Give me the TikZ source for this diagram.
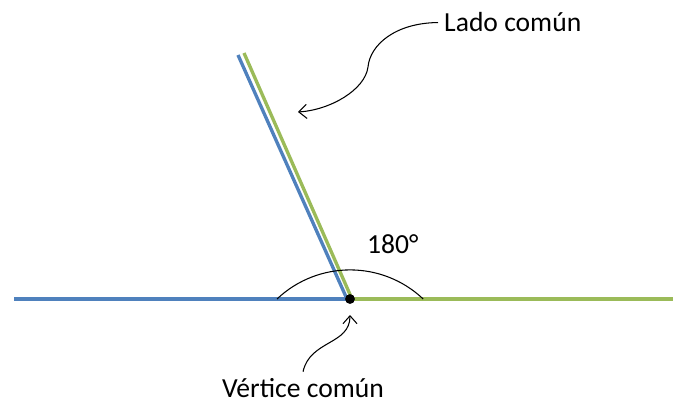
\documentclass[tikz,border=0pt]{standalone}
\usepackage{fontspec}
\setmainfont{Carlito}
\usetikzlibrary{arrows.meta}
\definecolor{azul}{HTML}{4F81BD}
\definecolor{verde}{HTML}{9BBB59}

\begin{document}
\begin{tikzpicture}[x=0.02cm, y=-0.02cm, font=\fontsize{15.7}{19}\selectfont, line join=round, >={Straight Barb[length=4.5pt,width=8pt]}]
	\useasboundingbox (0,0) rectangle (673,402);
	\coordinate (O) at (350,299);
	\coordinate (ladoP) at (298,112);
	\coordinate (vertP) at (350,315);
	
	\draw[azul, line width=1.9pt] (14,299)--(O);
	\draw[verde, line width=1.9pt] (O)--(673,299);
	\draw[azul, line width=1.9pt] (238,55)--(347,299);
	\draw[verde, line width=1.9pt] (244,53)--(352,299);
	
	\draw[line width=.6pt] (277,299) arc[start angle=-133.4, end angle=-46.6, radius=106.4];
	\fill (O) circle (2.8pt);
	
	\node[anchor=base west] (lado) at (438,32) {Lado común};
	\node[anchor=base west] (ang) at (361,253) {180°};
	\node[anchor=base west] (vert) at (216,397) {Vértice común};
	
	\draw[->, line width=.6pt] (lado.west) .. controls (395,23) and (370,45) .. (368,67) %
		.. controls (365,90) and (330,110) .. (ladoP);
	\draw[->, line width=.6pt] (vert.north) .. controls (310,340) and (350,345) .. (vertP);
\end{tikzpicture}
\end{document}
